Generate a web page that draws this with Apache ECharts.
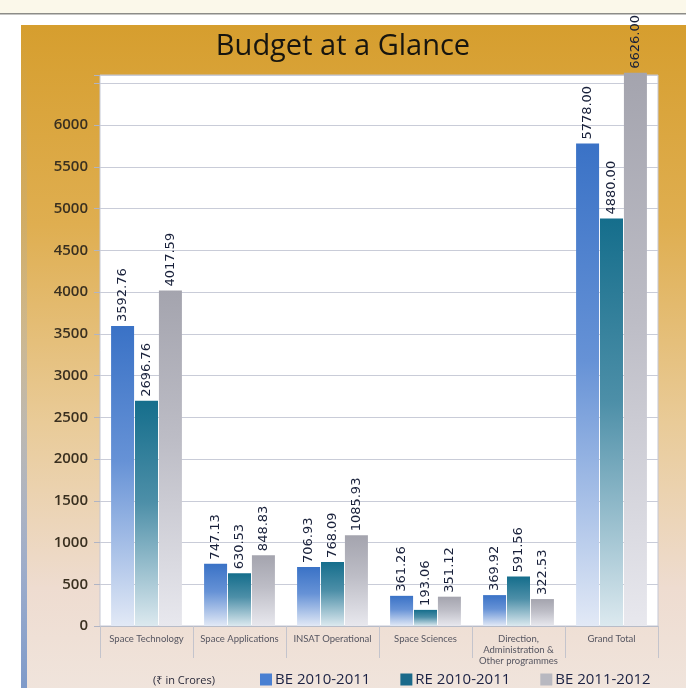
<!DOCTYPE html>
<html>
<head>
<meta charset="utf-8">
<script src="https://cdn.jsdelivr.net/npm/echarts@6/dist/echarts.min.js"></script>
<style>
html,body{margin:0;padding:0;background:#fff;}
#chart{width:686px;height:688px;}
</style>
</head>
<body>
<div id="chart"></div>
<script>
var categories = ['Space Technology', 'Space Applications', 'INSAT Operational', 'Space Sciences', 'Direction,\nAdministration &\nOther programmes', 'Grand Total'];
var be20102011 = [3592.76, 747.13, 706.93, 361.26, 369.92, 5778.00];
var re20102011 = [2696.76, 630.53, 768.09, 193.06, 591.56, 4880.00];
var be20112012 = [4017.59, 848.83, 1085.93, 351.12, 322.53, 6626.00];
var seriesNames = ['BE 2010-2011', 'RE 2010-2011', 'BE 2011-2012'];
var yTickLabels = [0, 500, 1000, 1500, 2000, 2500, 3000, 3500, 4000, 4500, 5000, 5500, 6000];

var chart = echarts.init(document.getElementById('chart'), null, {renderer: 'canvas'});

function grad(top, mid, bottom) {
  return new echarts.graphic.LinearGradient(0, 0, 0, 1, [
    {offset: 0, color: top},
    {offset: 0.45, color: mid},
    {offset: 1, color: bottom}
  ]);
}

var labelCfg = {
  show: true,
  position: 'top',
  rotate: 90,
  align: 'left',
  verticalAlign: 'middle',
  distance: 4,
  color: '#18203a',
  fontFamily: 'DejaVu Sans',
  fontSize: 13,
  formatter: function (p) { return Number(p.value).toFixed(2); }
};

function makeSeries(name, data, color) {
  return {
    name: name,
    type: 'bar',
    data: data,
    barWidth: 23,
    barGap: '4%',
    clip: false,
    itemStyle: {color: color},
    label: labelCfg
  };
}

var option = {
  backgroundColor: '#ffffff',
  animation: false,
  graphic: [
    {type: 'rect', z: -10, shape: {x: 0, y: 0, width: 686, height: 13}, style: {fill: '#fbf8ea'}},
    {type: 'rect', z: -10, shape: {x: 0, y: 13, width: 686, height: 1.5}, style: {fill: '#8c8c88'}},
    {type: 'rect', z: -10, shape: {x: 21, y: 25, width: 665, height: 663},
      style: {fill: new echarts.graphic.LinearGradient(0, 0, 0, 1, [
        {offset: 0, color: '#d69e2e'},
        {offset: 0.3, color: '#dfae50'},
        {offset: 0.6, color: '#e9cb98'},
        {offset: 0.85, color: '#eedcd0'},
        {offset: 1, color: '#f0e4dc'}
      ])}},
    {type: 'rect', z: -9, shape: {x: 21, y: 25, width: 6, height: 663},
      style: {fill: new echarts.graphic.LinearGradient(0, 0, 0, 1, [
        {offset: 0, color: 'rgba(140,165,205,0)'},
        {offset: 0.45, color: 'rgba(140,165,205,0.25)'},
        {offset: 1, color: 'rgba(120,150,200,0.95)'}
      ])}}
  ],
  title: [
    {
      text: 'Budget at a Glance',
      left: 'center',
      top: 27,
      textStyle: {fontFamily: 'Open Sans', fontSize: 29, fontWeight: 500, color: '#17150f'}
    },
    {
      text: '(₹ in Crores)',
      left: 148,
      top: 670,
      textStyle: {fontFamily: 'Open Sans, Noto Sans, DejaVu Sans', fontSize: 11, fontWeight: 'normal', color: '#2a2a3a'}
    }
  ],
  legend: {
    left: 255,
    top: 667,
    itemWidth: 12,
    itemHeight: 12,
    itemGap: 30,
    icon: 'rect',
    textStyle: {fontFamily: 'Open Sans', fontSize: 15, color: '#1b2244', padding: [0, 0, 0, -2]},
    data: [
      {name: seriesNames[0], itemStyle: {color: '#4a80d2'}},
      {name: seriesNames[1], itemStyle: {color: '#1b6a8a'}},
      {name: seriesNames[2], itemStyle: {color: '#b8b8c0'}}
    ]
  },
  grid: {
    left: 100,
    right: 28,
    top: 75,
    bottom: 62,
    show: true,
    backgroundColor: '#ffffff',
    borderColor: '#c4c7d4',
    borderWidth: 1
  },
  xAxis: {
    type: 'category',
    data: categories,
    axisLine: {show: true, lineStyle: {color: '#b8bcc8'}},
    axisTick: {show: true, length: 32, interval: 0, lineStyle: {color: '#c4c4cc'}},
    axisLabel: {
      interval: 0,
      margin: 7,
      fontFamily: 'Lato',
      fontSize: 9.5,
      lineHeight: 11,
      color: '#555560'
    }
  },
  yAxis: {
    type: 'value',
    min: 0,
    max: 6600,
    interval: 500,
    axisLine: {show: false},
    axisTick: {show: true, length: 6, lineStyle: {color: '#b0b4c4'}},
    splitLine: {show: true, lineStyle: {color: '#c9ccd8', width: 1}},
    axisLabel: {
      margin: 12,
      fontFamily: 'Open Sans',
      fontWeight: 600,
      fontSize: 15,
      color: '#3a3020',
      formatter: function (v) { return yTickLabels.indexOf(v) >= 0 ? String(v) : ''; }
    }
  },
  series: [
    makeSeries(seriesNames[0], be20102011, grad('#3a72c6', '#6692d6', '#e2e9f6')),
    makeSeries(seriesNames[1], re20102011, grad('#156e8c', '#4d8fa8', '#dce9ef')),
    makeSeries(seriesNames[2], be20112012, grad('#a4a4ae', '#bdbdc6', '#e8e8ee'))
  ]
};
chart.setOption(option);
</script>
</body>
</html>
